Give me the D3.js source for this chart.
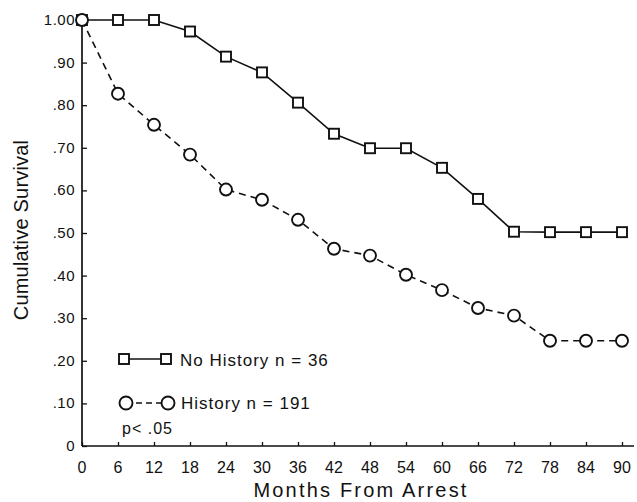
<!DOCTYPE html>
<html>
<head>
<meta charset="utf-8">
<script src="https://cdn.jsdelivr.net/npm/d3@7"></script>
<style>
  body { margin: 0; background: #fff; }
  svg { font-family: "Liberation Sans", Arial, sans-serif; }
</style>
</head>
<body>
<svg id="chart" width="637" height="502"></svg>
<script>
// months on the x axis
const months = [0, 6, 12, 18, 24, 30, 36, 42, 48, 54, 60, 66, 72, 78, 84, 90];
// survival, no prior history (squares, solid)
const noHistory = [1.00, 1.00, 1.00, 0.973, 0.914, 0.877, 0.806, 0.733, 0.699, 0.699, 0.653, 0.580, 0.503, 0.502, 0.502, 0.502];
// survival, prior history (circles, dashed)
const history = [1.00, 0.827, 0.754, 0.684, 0.602, 0.578, 0.531, 0.463, 0.447, 0.402, 0.366, 0.324, 0.306, 0.247, 0.247, 0.247];
const yTicks = [0, 0.1, 0.2, 0.3, 0.4, 0.5, 0.6, 0.7, 0.8, 0.9, 1.0];
const yTickLabels = ["0", ".10", ".20", ".30", ".40", ".50", ".60", ".70", ".80", ".90", "1.00"];

const svg = d3.select("#chart");
const margin = { left: 82, top: 20, right: 622, bottom: 446 };

const x = d3.scaleLinear().domain([0, 90]).range([margin.left, margin.right]);
const y = d3.scaleLinear().domain([0, 1]).range([margin.bottom, margin.top]);

// y axis
const yAxis = svg.append("g")
    .attr("transform", `translate(${margin.left},0)`)
    .call(d3.axisRight(y).tickValues(yTicks).tickFormat("").tickSize(5));
yAxis.select(".domain").remove();
yAxis.selectAll("line").attr("stroke", "#111").attr("stroke-width", 1.3);
svg.append("line")
    .attr("x1", margin.left).attr("x2", margin.left)
    .attr("y1", y(1)).attr("y2", y(0))
    .attr("stroke", "#111").attr("stroke-width", 1.7);

svg.selectAll(".ylab")
    .data(yTicks)
    .enter().append("text")
    .attr("class", "ylab")
    .attr("x", 75)
    .attr("y", d => y(d) + 5)
    .attr("text-anchor", "end")
    .attr("font-size", 15)
    .attr("letter-spacing", 0.5)
    .attr("fill", "#111")
    .text((d, i) => yTickLabels[i]);

// x axis
const xAxis = svg.append("g")
    .attr("transform", `translate(0,${margin.bottom})`)
    .call(d3.axisTop(x).tickValues(months).tickFormat("").tickSize(4));
xAxis.select(".domain").remove();
xAxis.selectAll("line").attr("stroke", "#111").attr("stroke-width", 1.3);
svg.append("line")
    .attr("x1", margin.left).attr("x2", 634)
    .attr("y1", margin.bottom).attr("y2", margin.bottom)
    .attr("stroke", "#111").attr("stroke-width", 1.7);

svg.selectAll(".xlab")
    .data(months)
    .enter().append("text")
    .attr("class", "xlab")
    .attr("x", d => x(d))
    .attr("y", 473)
    .attr("text-anchor", "middle")
    .attr("font-size", 16)
    .attr("fill", "#111")
    .text(d => d);

// axis titles
svg.append("text")
    .attr("x", 361).attr("y", 497)
    .attr("text-anchor", "middle")
    .attr("font-size", 20)
    .attr("letter-spacing", 2.2)
    .attr("fill", "#111")
    .text("Months From Arrest");

svg.append("text")
    .attr("transform", "translate(28,230) rotate(-90)")
    .attr("text-anchor", "middle")
    .attr("font-size", 20)
    .attr("letter-spacing", 0.2)
    .attr("fill", "#111")
    .text("Cumulative Survival");

// series
const line = d3.line().x(d => x(d[0])).y(d => y(d[1]));
const noHistPts = months.map((m, i) => [m, noHistory[i]]);
const histPts = months.map((m, i) => [m, history[i]]);

svg.append("path")
    .datum(histPts)
    .attr("d", line)
    .attr("fill", "none")
    .attr("stroke", "#111")
    .attr("stroke-width", 1.6)
    .attr("stroke-dasharray", "7,5");

svg.append("path")
    .datum(noHistPts)
    .attr("d", line)
    .attr("fill", "none")
    .attr("stroke", "#111")
    .attr("stroke-width", 1.6);

svg.selectAll(".sq")
    .data(noHistPts)
    .enter().append("rect")
    .attr("class", "sq")
    .attr("x", d => x(d[0]) - 5)
    .attr("y", d => y(d[1]) - 5)
    .attr("width", 10).attr("height", 10)
    .attr("fill", "#fff")
    .attr("stroke", "#111")
    .attr("stroke-width", 1.9);

svg.selectAll(".circ")
    .data(histPts)
    .enter().append("circle")
    .attr("class", "circ")
    .attr("cx", d => x(d[0]))
    .attr("cy", d => y(d[1]))
    .attr("r", 6)
    .attr("fill", "#fff")
    .attr("stroke", "#111")
    .attr("stroke-width", 1.9);

// legend
const leg = svg.append("g");
leg.append("line")
    .attr("x1", 124).attr("x2", 166).attr("y1", 359).attr("y2", 359)
    .attr("stroke", "#111").attr("stroke-width", 1.6);
[124, 166].forEach(cx => {
    leg.append("rect")
        .attr("x", cx - 5).attr("y", 354).attr("width", 10).attr("height", 10)
        .attr("fill", "#fff").attr("stroke", "#111").attr("stroke-width", 1.9);
});
leg.append("text")
    .attr("x", 180).attr("y", 366)
    .attr("font-size", 17).attr("letter-spacing", 1)
    .attr("fill", "#111")
    .text("No History n = 36");

leg.append("line")
    .attr("x1", 126).attr("x2", 168).attr("y1", 403).attr("y2", 403)
    .attr("stroke", "#111").attr("stroke-width", 1.6)
    .attr("stroke-dasharray", "6,4");
[126, 168].forEach(cx => {
    leg.append("circle")
        .attr("cx", cx).attr("cy", 403).attr("r", 6.5)
        .attr("fill", "#fff").attr("stroke", "#111").attr("stroke-width", 1.9);
});
leg.append("text")
    .attr("x", 181).attr("y", 409)
    .attr("font-size", 17).attr("letter-spacing", 1)
    .attr("fill", "#111")
    .text("History n = 191");

leg.append("text")
    .attr("x", 122).attr("y", 434)
    .attr("font-size", 16).attr("letter-spacing", 1)
    .attr("fill", "#111")
    .text("p< .05");
</script>
</body>
</html>
